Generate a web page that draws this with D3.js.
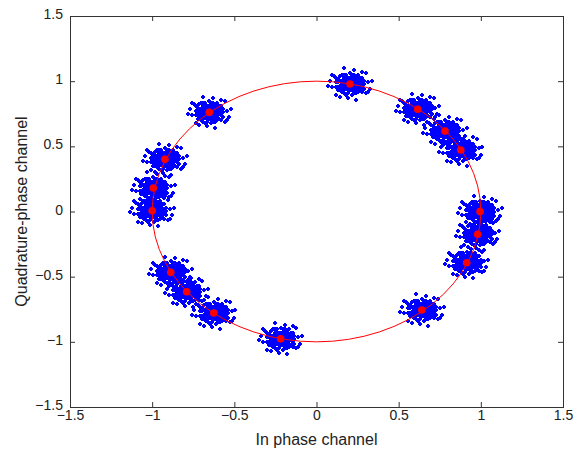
<!DOCTYPE html>
<html>
<head>
<meta charset="utf-8">
<script src="https://cdn.jsdelivr.net/npm/d3@7"></script>
<style>
  body { margin: 0; background: #fff; }
  text { font-family: "Liberation Sans", Arial, sans-serif; }
</style>
</head>
<body>
<svg id="chart" width="584" height="451"></svg>
<script>
// ideal symbol positions (red dots)
var symI = [0.204, 0.616, 0.782, 0.878, 0.995, 0.981, 0.914, 0.641, -0.218, -0.625, -0.790, -0.887, -1.0, -0.993, -0.922, -0.652]
var symQ = [0.978, 0.784, 0.617, 0.472, 0.0, -0.175, -0.393, -0.756, -0.977, -0.779, -0.616, -0.467, 0.006, 0.180, 0.400, 0.761]

// received-sample scatter round each symbol, offsets in units of 0.01
var noiseDx = [0, 1, -2, 3, -1, 2, -3, 4, -4, 0, 1, -2, 3, -3, 2, -1, 1, 0, -2, 2, 3, -4, 4, -3, 1, -1, 0, 2, -2, 3,
  -4, 4, 0, -1, 2, -3, 1, -1, 0, 0, 3, -3, 2, -2, 2, -2, 1, -1, 4, -4, 1, -1, 3, -3, 1, -1, 4, -4, 2, -2,
  3, -3, 0, 0, 1, -1, 4, -4, 2, -2,
  5, -5, 6, -6, 2, -3, 5, -5, 6, -6, 1, -1, 7, -7, 3, -4, 5, -5, 4, -2, 6, -6, 0, 2, 7, -7, 3, -3, 5, -5,
  6, -4, 4, -6, 1, -2, 7, -7, 5, -5,
  9, -9, 2, -1, 8, -8, 10, -10, 6, -5, 11, -11, 3, -7, 8, -3, 9, -9]
var noiseDy = [0, 2, 1, -1, -3, 3, -2, 1, 0, 4, -4, 3, 2, 3, -2, 1, -1, -2, -1, 0, 4, -3, -3, 4, 3, -2, 2, 1, -3, -3,
  2, 3, -4, 4, -4, -4, 0, 0, 1, -1, 0, 0, 2, 2, -1, -2, 1, -1, -1, 1, 4, 3, 1, 1, -2, 2, 2, -2, 4, 4,
  -2, -1, 3, -3, -3, -4, 0, -1, 3, 0,
  2, -1, -2, 3, 6, -6, -4, 5, 1, -2, 6, -6, 0, 1, 5, -5, 4, -4, -5, 6, 4, -4, 7, -6, -3, -2, -6, 6, 0, 2,
  -5, 6, 6, 1, -7, -7, 2, 4, -1, -3,
  1, -2, 9, -9, -6, 5, -3, 2, 8, -8, 2, -1, -10, -7, 7, 10, -5, 6]

var ticks = [-1.5, -1, -0.5, 0, 0.5, 1, 1.5]

var margin = {top: 16, right: 21, bottom: 44, left: 70}
var width = 584 - margin.left - margin.right
var height = 451 - margin.top - margin.bottom

var svg = d3.select('#chart')
var g = svg.append('g')
  .attr('transform', 'translate(' + margin.left + ',' + margin.top + ')')

var x = d3.scaleLinear().domain([-1.5, 1.5]).range([0, width])
var y = d3.scaleLinear().domain([-1.5, 1.5]).range([height, 0])

var symbols = symI.map(function (v, i) { return {i: v, q: symQ[i]} })
var samples = []
symbols.forEach(function (s) {
  noiseDx.forEach(function (dx, k) {
    samples.push({i: s.i + dx * 0.012, q: s.q + noiseDy[k] * 0.012})
  })
})

// blue received samples
g.append('g').selectAll('path')
  .data(samples)
  .enter()
  .append('path')
  .attr('d', 'M-2,-1h4v2h-4zM-1,-2h2v4h-2z')
  .attr('fill', '#0000ff')
  .attr('transform', function (d) {
    return 'translate(' + Math.round(x(d.i)) + ',' + Math.round(y(d.q)) + ')'
  })

// unit circle
g.append('ellipse')
  .attr('cx', x(0))
  .attr('cy', y(0))
  .attr('rx', x(1) - x(0))
  .attr('ry', y(0) - y(1))
  .attr('fill', 'none')
  .attr('stroke', '#ff0000')
  .attr('stroke-width', 1)

// red ideal points
g.append('g').selectAll('circle')
  .data(symbols)
  .enter()
  .append('circle')
  .attr('cx', function (d) { return x(d.i) })
  .attr('cy', function (d) { return y(d.q) })
  .attr('r', 3.8)
  .attr('fill', '#ff0000')

// axes, ticks inward on all four sides
var axisColor = '#333'
function styleAxis (sel) {
  sel.select('.domain').remove()
  sel.selectAll('line').attr('stroke', axisColor)
  sel.selectAll('text').attr('fill', '#222').style('font-size', '14px')
}
g.append('g')
  .attr('transform', 'translate(0,' + height + ')')
  .call(d3.axisBottom(x).tickValues(ticks).tickFormat(d3.format('')).tickSizeInner(-5).tickSizeOuter(0).tickPadding(3))
  .call(styleAxis)
g.append('g')
  .call(d3.axisLeft(y).tickValues(ticks).tickFormat(d3.format('')).tickSizeInner(-5).tickSizeOuter(0).tickPadding(7))
  .call(styleAxis)
  .selectAll('text').attr('dy', '0.18em')
g.append('g')
  .call(d3.axisTop(x).tickValues(ticks).tickFormat('').tickSizeInner(-5).tickSizeOuter(0))
  .call(styleAxis)
g.append('g')
  .attr('transform', 'translate(' + width + ',0)')
  .call(d3.axisRight(y).tickValues(ticks).tickFormat('').tickSizeInner(-5).tickSizeOuter(0))
  .call(styleAxis)

g.append('rect')
  .attr('x', 0.5).attr('y', 0.5)
  .attr('width', width).attr('height', height)
  .attr('fill', 'none')
  .attr('stroke', axisColor)

svg.append('text')
  .attr('x', margin.left + width / 2)
  .attr('y', 445)
  .attr('text-anchor', 'middle')
  .attr('fill', '#222')
  .style('font-size', '16px')
  .text('In phase channel')

svg.append('text')
  .attr('transform', 'translate(27,' + (margin.top + height / 2) + ') rotate(-90)')
  .attr('text-anchor', 'middle')
  .attr('fill', '#222')
  .style('font-size', '16px')
  .text('Quadrature-phase channel')
</script>
</body>
</html>
